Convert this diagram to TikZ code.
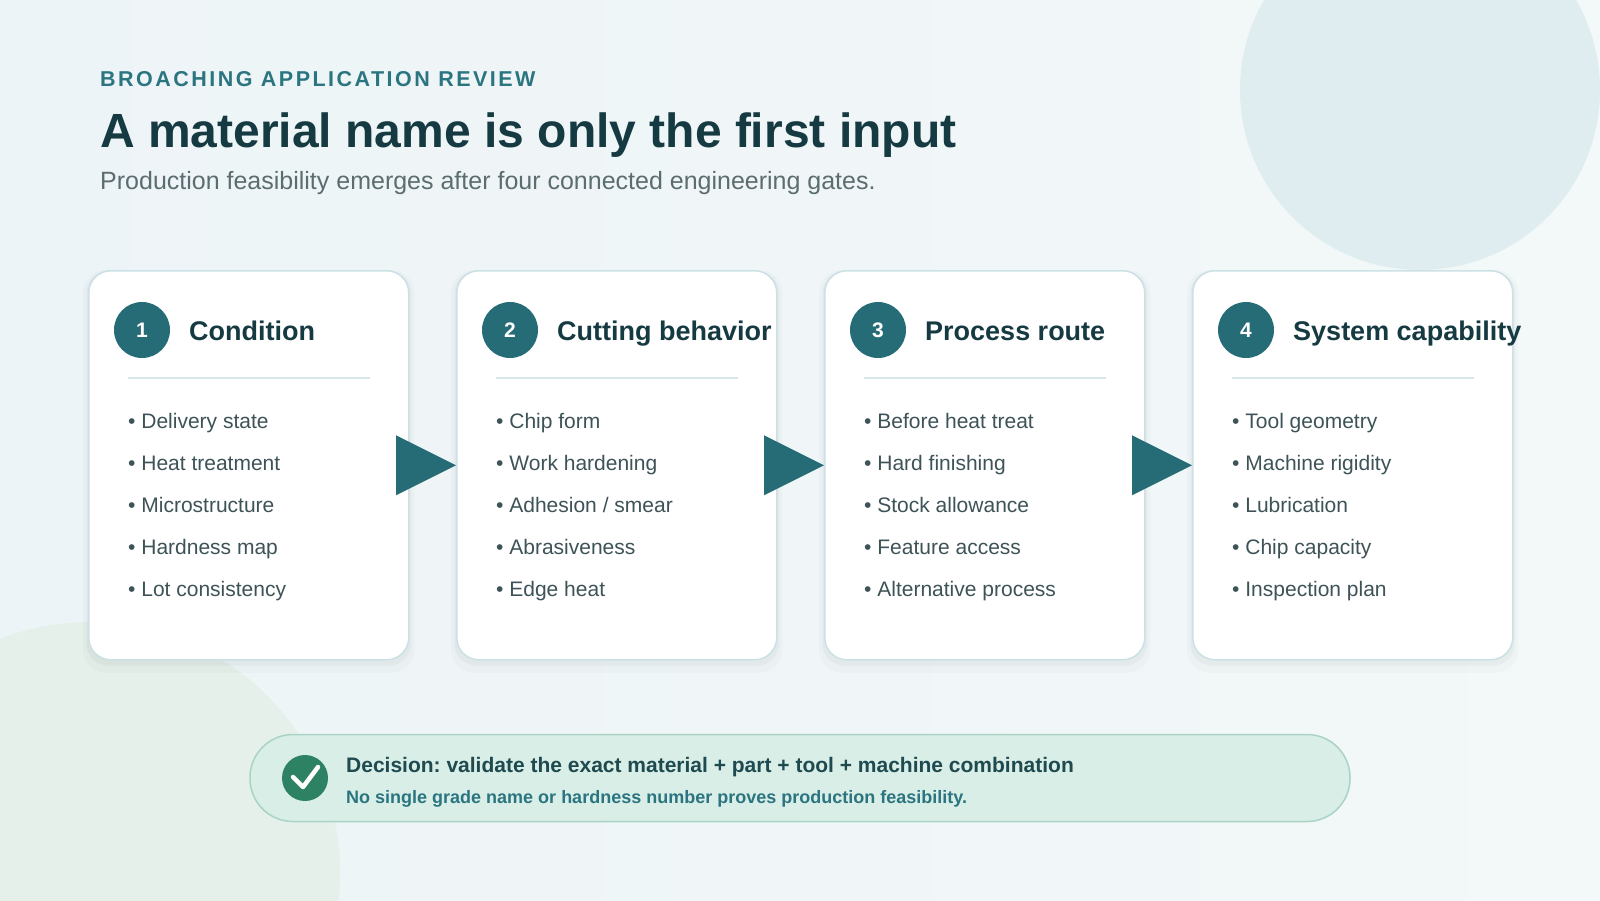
\documentclass[tikz,border=0pt]{standalone}
\usepackage{fontspec}
\setmainfont{Liberation Sans}
\usetikzlibrary{positioning,calc,shadows}
\definecolor{bgA}{HTML}{EDF4F7}
\definecolor{bgB}{HTML}{F3F8F8}
\definecolor{blobA}{HTML}{DFEDF0}
\definecolor{blobB}{HTML}{E5F0EB}
\definecolor{gatecol}{HTML}{266C76}
\definecolor{headcol}{HTML}{163A42}
\definecolor{itemcol}{HTML}{3E5357}
\definecolor{kickcol}{HTML}{2B7580}
\definecolor{subcol}{HTML}{5B6D70}
\definecolor{cardline}{HTML}{CBE1E5}
\definecolor{rulecol}{HTML}{D6E7E9}
\definecolor{decfill}{HTML}{D9EEE7}
\definecolor{decline}{HTML}{A9D4C5}
\definecolor{okcol}{HTML}{2E8264}
\definecolor{dectext}{HTML}{1E4A50}
\frenchspacing
\tikzset{
    card/.style={draw=cardline, line width=1.5pt, fill=white, rounded corners=22pt,
      minimum width=320pt, minimum height=389pt, anchor=north west,
      drop shadow={shadow xshift=0pt, shadow yshift=-6pt, shadow scale=1.035, opacity=.02, fill=black},
      drop shadow={shadow xshift=0pt, shadow yshift=-3pt, shadow scale=1.015, opacity=.03, fill=black}},
    badge/.style={circle, fill=gatecol, text=white, minimum size=56pt, inner sep=0pt,
      font=\fontsize{21}{25}\selectfont\bfseries},
    head/.style={anchor=base west, inner sep=0pt, text=headcol, font=\fontsize{27}{32}\selectfont\bfseries},
    item/.style={anchor=base west, inner sep=0pt, text=itemcol, font=\fontsize{21}{25}\selectfont},
    divider/.style={draw=rulecol, line width=2pt},
    gate/.style={fill=gatecol}
}

\begin{document}
\begin{tikzpicture}
  [
    x                     = 1pt,
    y                     = -1pt,
  ]
  \useasboundingbox (0,0) rectangle (1600,900);
  \begin{scope}
    \clip (0,0) rectangle (1600,900);
    \shade [left color=bgA, right color=bgB] (0,0) rectangle (1600,900);
    \fill [blobA] (1420,90) circle [radius=180];
    \fill [blobB] (90,872) circle [radius=250];
  \end{scope}

  % heading
  \node [anchor=base west, inner sep=0pt, text=kickcol,
    font=\fontsize{21.5}{26}\selectfont\bfseries\addfontfeatures{LetterSpace=11.5}]
    (kicker) at (100,86) {BROACHING APPLICATION REVIEW};
  \node [anchor=base west, inner sep=0pt, text=headcol, font=\fontsize{48}{56}\selectfont\bfseries]
    (title) at (100,147) {A material name is only the first input};
  \node [anchor=base west, inner sep=0pt, text=subcol, font=\fontsize{25}{30}\selectfont]
    (subtitle) at (100,189) {Production feasibility emerges after four connected engineering gates.};

  % gates
  \node [card] (c1) at (88,270) {};
  \node [card] (c2) at (456,270) {};
  \node [card] (c3) at (824,270) {};
  \node [card] (c4) at (1192,270) {};

  \node [badge] (b1) at ($(c1.north west)+(54,60)$) {1};
  \node [head] (h1) at ($(c1.north west)+(101,70)$) {Condition};
  \draw [divider] ($(c1.north west)+(40,108)$) -- ($(c1.north east)+(-40,108)$);
  \foreach \t [count=\k] in {Delivery state, Heat treatment, Microstructure, Hardness map, Lot consistency}
    \node [item] (i1\k) at ($(c1.north west)+(40,116+42*\k)$) {• \t};

  \node [badge] (b2) at ($(c2.north west)+(54,60)$) {2};
  \node [head] (h2) at ($(c2.north west)+(101,70)$) {Cutting behavior};
  \draw [divider] ($(c2.north west)+(40,108)$) -- ($(c2.north east)+(-40,108)$);
  \foreach \t [count=\k] in {Chip form, Work hardening, Adhesion / smear, Abrasiveness, Edge heat}
    \node [item] (i2\k) at ($(c2.north west)+(40,116+42*\k)$) {• \t};

  \node [badge] (b3) at ($(c3.north west)+(54,60)$) {3};
  \node [head] (h3) at ($(c3.north west)+(101,70)$) {Process route};
  \draw [divider] ($(c3.north west)+(40,108)$) -- ($(c3.north east)+(-40,108)$);
  \foreach \t [count=\k] in {Before heat treat, Hard finishing, Stock allowance, Feature access, Alternative process}
    \node [item] (i3\k) at ($(c3.north west)+(40,116+42*\k)$) {• \t};

  \node [badge] (b4) at ($(c4.north west)+(54,60)$) {4};
  \node [head] (h4) at ($(c4.north west)+(101,70)$) {System capability};
  \draw [divider] ($(c4.north west)+(40,108)$) -- ($(c4.north east)+(-40,108)$);
  \foreach \t [count=\k] in {Tool geometry, Machine rigidity, Lubrication, Chip capacity, Inspection plan}
    \node [item] (i4\k) at ($(c4.north west)+(40,116+42*\k)$) {• \t};

  \fill [gate] (c2.west) -- ++(-60,-30) -- ++(0,60) -- cycle;
  \fill [gate] (c3.west) -- ++(-60,-30) -- ++(0,60) -- cycle;
  \fill [gate] (c4.west) -- ++(-60,-30) -- ++(0,60) -- cycle;

  % decision
  \node [draw=decline, line width=1.5pt, fill=decfill, rounded corners=43pt,
    minimum width=1100pt, minimum height=87pt] (dec) at (800,778) {};
  \node [circle, fill=okcol, minimum size=46pt, inner sep=0pt] (ok) at (305,778) {};
  \draw [white, line width=4.5pt, line cap=round, line join=round]
    ($(ok)+(-12,-1)$) -- ($(ok)+(-2,9)$) -- ($(ok)+(13,-11)$);
  \node [anchor=base west, inner sep=0pt, text=dectext, font=\fontsize{21}{25}\selectfont\bfseries]
    (d1) at (346,772) {Decision: validate the exact material + part + tool + machine combination};
  \node [anchor=base west, inner sep=0pt, text=kickcol, font=\fontsize{18}{22}\selectfont\bfseries]
    (d2) at (346,803) {No single grade name or hardness number proves production feasibility.};
\end{tikzpicture}
\end{document}
